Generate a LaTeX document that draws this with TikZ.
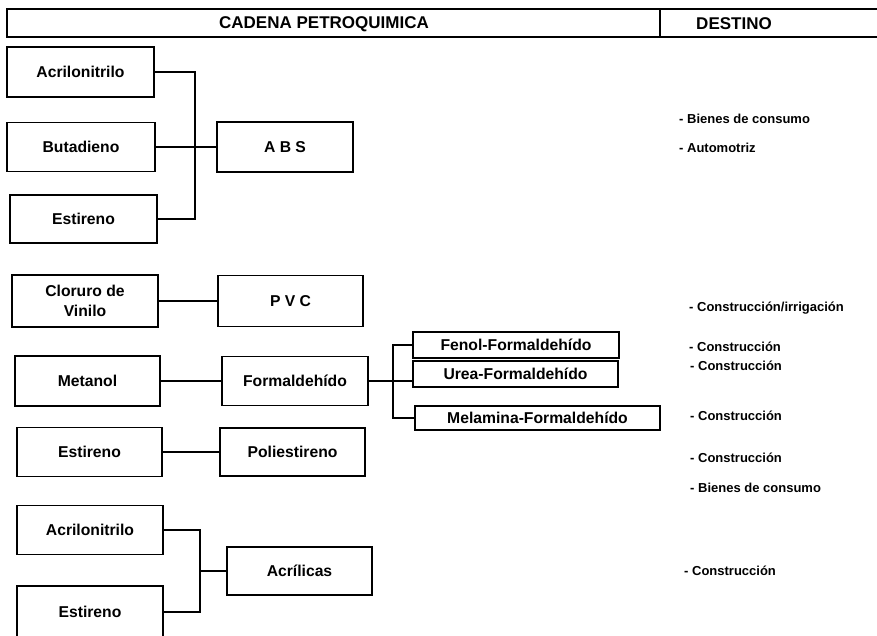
\documentclass[tikz,border=0pt]{standalone}
\usepackage{fontspec}
\setmainfont{Liberation Sans}
\begin{document}
\begin{tikzpicture}[x=1pt,y=-1pt,
  bx/.style={draw, line width=1.8pt, inner sep=0pt, align=center,
    font=\fontsize{15.7}{20}\selectfont\bfseries},
  hdrbox/.style={draw, line width=1.8pt, inner sep=0pt},
  hdrtext/.style={inner sep=0pt, font=\fontsize{17}{18}\selectfont\bfseries},
  dest/.style={anchor=west, inner sep=0pt, font=\fontsize{13}{14}\selectfont\bfseries},
  conn/.style={line width=1.8pt}]
\useasboundingbox (0,0) rectangle (877,636);
% header
\node[hdrbox, minimum width=653pt, minimum height=28pt] (hc) at (333.5,23) {};
\node[hdrbox, minimum width=219pt, minimum height=28pt] (hd) at (769.5,23) {};
\node[hdrtext] (hct) at (324,24) {CADENA PETROQUIMICA};
\node[hdrtext] (hdt) at (734,24) {DESTINO};
% ABS group
\node[bx, minimum width=147pt, minimum height=50pt] (a1) at (80.5,72) {Acrilonitrilo};
\node[bx, minimum width=148pt, minimum height=49pt] (bu) at (81,147) {Butadieno};
\node[bx, minimum width=147pt, minimum height=48pt] (e1) at (83.5,219) {Estireno};
\node[bx, minimum width=136pt, minimum height=50pt] (abs) at (285,147) {A B S};
\coordinate (j1) at (195,147);
\draw[conn] (a1.east) -| (j1) |- (e1.east);
\draw[conn] (bu.east) -- (abs.west);
% PVC
\node[bx, minimum width=146pt, minimum height=52pt] (cv) at (85,301) {Cloruro de\\Vinilo};
\node[bx, minimum width=145pt, minimum height=51pt] (pvc) at (290.5,301) {P V C};
\draw[conn] (cv.east) -- (pvc.west);
% Formaldehido
\node[bx, minimum width=145pt, minimum height=50pt] (me) at (87.5,381) {Metanol};
\node[bx, minimum width=146pt, minimum height=49pt] (fo) at (295,381) {Formaldehído};
\draw[conn] (me.east) -- (fo.west);
\node[bx, minimum width=206pt, minimum height=26pt] (fe) at (516,345) {Fenol-Formaldehído};
\node[bx, minimum width=205pt, minimum height=26pt] (ur) at (515.5,374) {Urea-Formaldehído};
\node[bx, minimum width=245pt, minimum height=24pt] (mf) at (537.5,418) {Melamina-Formaldehído};
\coordinate (j2) at (393,381);
\draw[conn] (fo.east) -- (fo.east -| ur.west);
\draw[conn] (fe.west) -| (j2) |- (mf.west);
% Poliestireno
\node[bx, minimum width=145pt, minimum height=49pt] (e2) at (89.5,452) {Estireno};
\node[bx, minimum width=145pt, minimum height=48pt] (po) at (292.5,452) {Poliestireno};
\draw[conn] (e2.east) -- (po.west);
% Acrilicas
\node[bx, minimum width=146pt, minimum height=49pt] (a2) at (90,530) {Acrilonitrilo};
\node[bx, minimum width=146pt, minimum height=52pt] (e3) at (90,612) {Estireno};
\node[bx, minimum width=145pt, minimum height=48pt] (ac) at (299.5,571) {Acrílicas};
\coordinate (j3) at (200,571);
\draw[conn] (a2.east) -| (j3) |- (e3.east);
\draw[conn] (j3) -- (ac.west);
% destinos
\node[dest] (d1) at (679,119) {- Bienes de consumo};
\node[dest] (d2) at (679,148) {- Automotriz};
\node[dest] (d3) at (689,308) {- Construcción/irrigación};
\node[dest] (d4) at (689,347) {- Construcción};
\node[dest] (d5) at (690,366) {- Construcción};
\node[dest] (d6) at (690,416) {- Construcción};
\node[dest] (d7) at (690,458) {- Construcción};
\node[dest] (d8) at (690,488) {- Bienes de consumo};
\node[dest] (d9) at (684,571) {- Construcción};
\end{tikzpicture}
\end{document}
